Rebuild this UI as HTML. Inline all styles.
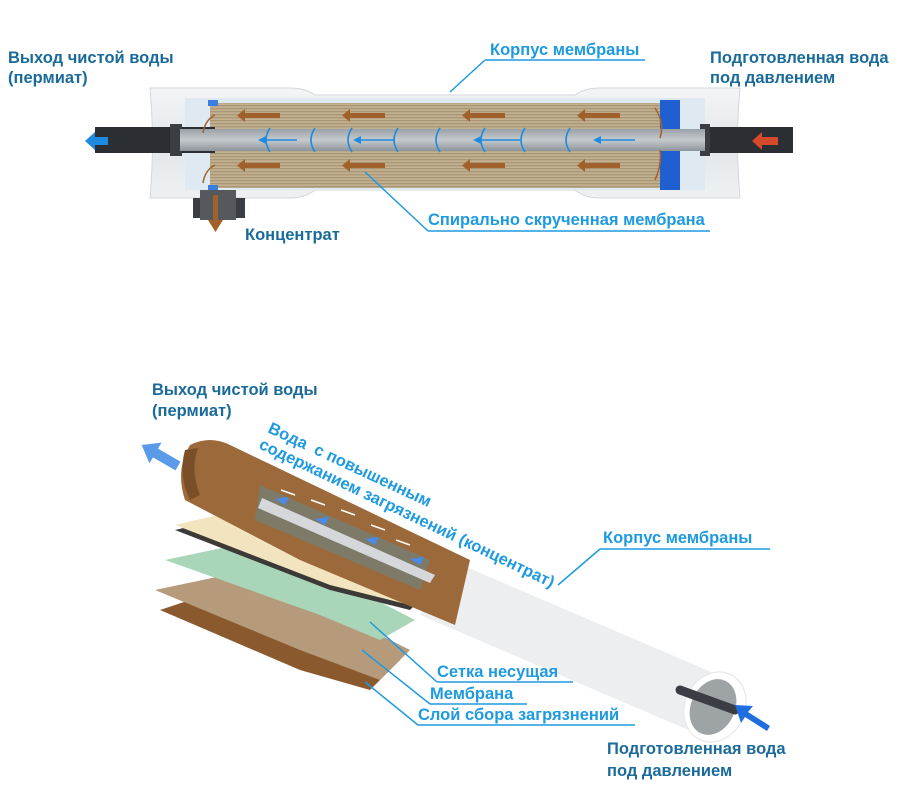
<!DOCTYPE html>
<html><head><meta charset="utf-8"><style>
body{margin:0;background:#fff;width:900px;height:800px;overflow:hidden}
svg text{font-family:"Liberation Sans",sans-serif;font-weight:bold;font-size:16.5px}
.d{fill:#1a6a9a}.b{fill:#1e9ae0}
</style></head><body>
<svg width="900" height="800" viewBox="0 0 900 800">
<defs>
<linearGradient id="h" x1="0" y1="0" x2="0" y2="1"><stop offset="0" stop-color="#f4f5f7"/><stop offset=".5" stop-color="#e3e6ea"/><stop offset="1" stop-color="#eef0f2"/></linearGradient>
<linearGradient id="m" x1="0" y1="0" x2="0" y2="1"><stop offset="0" stop-color="#c9b898"/><stop offset=".5" stop-color="#b8a584"/><stop offset="1" stop-color="#c9b898"/></linearGradient>
<linearGradient id="p" x1="0" y1="0" x2="0" y2="1"><stop offset="0" stop-color="#9aa1a6"/><stop offset=".5" stop-color="#c5cacd"/><stop offset="1" stop-color="#8d9499"/></linearGradient>
<linearGradient id="t" x1="0" y1="0" x2="0.4" y2="-1"><stop offset="0" stop-color="#eceef0"/><stop offset=".5" stop-color="#ffffff"/><stop offset="1" stop-color="#f3f4f5"/></linearGradient>
<pattern id="st" width="4" height="3" patternUnits="userSpaceOnUse"><rect width="4" height="3" fill="url(#m)"/><rect width="4" height="1" fill="#a89677"/></pattern>
</defs>
<!-- TOP -->
<path d="M150 88 L290 88 Q305 88 315 95 L575 95 Q585 88 600 88 L740 88 Q735 140 740 198 L600 198 Q585 198 575 190 L315 190 Q305 198 290 198 L150 198 Q155 140 150 88Z" fill="url(#h)" stroke="#d4d7db"/>
<rect x="185" y="98" width="520" height="92" fill="#dfe9f2"/>
<rect x="210" y="103" width="455" height="85" fill="url(#st)"/>
<rect x="660" y="100" width="20" height="90" fill="#1f5fcf"/>
<rect x="208" y="100" width="10" height="6" fill="#3a7fe0"/>
<rect x="208" y="185" width="10" height="6" fill="#3a7fe0"/>
<rect x="95" y="127" width="120" height="26" fill="#2b2f33"/>
<rect x="170" y="124" width="12" height="32" fill="#3a3e42"/>
<rect x="705" y="127" width="88" height="26" fill="#2b2f33"/>
<rect x="700" y="124" width="10" height="32" fill="#3a3e42"/>
<rect x="180" y="129" width="525" height="22" fill="url(#p)"/>
<rect x="193" y="198" width="52" height="20" fill="#3a3e42"/><rect x="200" y="190" width="36" height="30" fill="#55595d"/>
<g fill="#a0622a">
<path d="M245 113h35v5h-35v4l-8-6.5 8-6.5z"/><path d="M350 113h35v5h-35v4l-8-6.5 8-6.5z"/><path d="M470 113h35v5h-35v4l-8-6.5 8-6.5z"/><path d="M585 113h35v5h-35v4l-8-6.5 8-6.5z"/>
<path d="M245 163h35v5h-35v4l-8-6.5 8-6.5z"/><path d="M350 163h35v5h-35v4l-8-6.5 8-6.5z"/><path d="M470 163h35v5h-35v4l-8-6.5 8-6.5z"/><path d="M585 163h35v5h-35v4l-8-6.5 8-6.5z"/>
<rect x="213" y="195" width="5" height="25"/><path d="M208 220h15l-7.5 12z"/>
</g>
<path d="M762 137h16v8h-16v5l-10-9 10-9z" fill="#d44a2a"/>
<path d="M95 137h13v8h-13v5l-10-9 10-9z" fill="#1e8ae0"/>
<g stroke="#1e8ae0" stroke-width="1.6" fill="none">
<path d="M265 140h32M360 140h35M480 140h40M600 140h35"/>
<path d="M270 128q-8 12 0 24M315 128q-8 12 0 24M352 128q-8 12 0 24M398 128q-8 12 0 24M440 128q-8 12 0 24M485 128q-8 12 0 24M525 128q-8 12 0 24M570 128q-8 12 0 24"/>
</g>
<g fill="#1e8ae0"><path d="M258 140l8-4v8z"/><path d="M353 140l8-4v8z"/><path d="M473 140l8-4v8z"/><path d="M593 140l8-4v8z"/></g>
<g stroke="#a0622a" stroke-width="1.5" fill="none"><path d="M215 115q-10 5-12 18M215 165q-10 5-12 18M655 108q10 15 5 30M660 150q2 15-5 30"/></g>
<text x="8" y="63" class="d">Выход чистой воды</text><text x="8" y="83" class="d">(пермиат)</text>
<text x="490" y="55" class="b">Корпус мембраны</text>
<path d="M485 60H645M485 60L450 92" stroke="#1e9ae0" stroke-width="1.5" fill="none"/>
<text x="710" y="63" class="d">Подготовленная вода</text><text x="710" y="83" class="d">под давлением</text>
<text x="428" y="225" class="b">Спирально скрученная мембрана</text>
<path d="M428 231H710M428 231L365 172" stroke="#1e9ae0" stroke-width="1.5" fill="none"/>
<text x="245" y="240" class="d">Концентрат</text>
<!-- BOTTOM -->
<path d="M450 560 L730 680 L700 735 L420 615Z" fill="url(#t)"/>
<ellipse cx="715" cy="707" rx="30" ry="36" transform="rotate(25 715 707)" fill="#fff" stroke="#e3e5e7"/>
<ellipse cx="713" cy="707" rx="22" ry="29" transform="rotate(25 713 707)" fill="#9ea3a6"/>
<path d="M680 690L735 710" stroke="#3a3e44" stroke-width="9" stroke-linecap="round"/>
<path d="M748 712l22 14-3 5-22-14-4 6-6-18 18 1z" fill="#1e6ee0"/>
<path d="M160 610 L300 670 L370 690 L400 660 L250 580Z" fill="#8a5a2e"/>
<path d="M155 590 L300 650 L380 680 L410 650 L250 570Z" fill="#b59a7c"/>
<path d="M165 560 L320 615 L380 640 L415 620 L260 540Z" fill="#a9d5b8"/>
<path d="M175 530 L330 590 L410 610 L430 590 L260 510Z" fill="#3c3a36"/>
<path d="M175 525 L330 585 L410 605 L430 585 L260 505Z" fill="#f3e4c0"/>
<path d="M190 445 Q210 435 230 445 L470 560 L455 625 L300 560 L185 500 Q175 470 190 445Z" fill="#9c6a3a"/>
<path d="M185 450 Q178 475 190 500 L200 495 Q190 470 198 448Z" fill="#7a4f28"/>
<path d="M260 485 L430 560 L420 590 L255 520Z" fill="#7d7a68"/>
<path d="M262 498 L435 575 L430 583 L258 508Z" fill="#d5d7da"/>
<g fill="#4a8ae8"><path d="M285 505l-10-6 14-2z"/><path d="M325 525l-10-6 14-2z"/><path d="M375 545l-10-6 14-2z"/><path d="M420 565l-10-6 14-2z"/></g>
<g stroke="#fff" stroke-width="1.5" fill="none"><path d="M295 495l-14-5M325 505l-14-5M355 515l-14-5M385 530l-14-5M410 545l-14-5"/></g>
<g transform="translate(178,466) rotate(-150)"><path d="M0 -5H26V-12L42 0 26 12V5H0Z" fill="#5a9ae8"/></g>
<text x="152" y="395" class="d">Выход чистой воды</text><text x="152" y="416" class="d">(пермиат)</text>
<text transform="translate(267,432) rotate(25)" class="b">Вода&#160;&#160;с повышенным</text>
<text transform="translate(258,448) rotate(25.5)" class="b">содержанием загрязнений (концентрат)</text>
<text x="603" y="543" class="b">Корпус мембраны</text>
<path d="M600 549H770M600 549L558 585" stroke="#1e9ae0" stroke-width="1.5" fill="none"/>
<text x="437" y="677" class="b">Сетка несущая</text>
<path d="M437 682H573M437 682L370 622" stroke="#1e9ae0" stroke-width="1.5" fill="none"/>
<text x="430" y="699" class="b">Мембрана</text>
<path d="M430 704H527M430 704L362 650" stroke="#1e9ae0" stroke-width="1.5" fill="none"/>
<text x="418" y="720" class="b">Слой сбора загрязнений</text>
<path d="M418 725H635M418 725L365 682" stroke="#1e9ae0" stroke-width="1.5" fill="none"/>
<text x="607" y="754" class="d">Подготовленная вода</text><text x="607" y="776" class="d">под давлением</text>
</svg>
</body></html>
